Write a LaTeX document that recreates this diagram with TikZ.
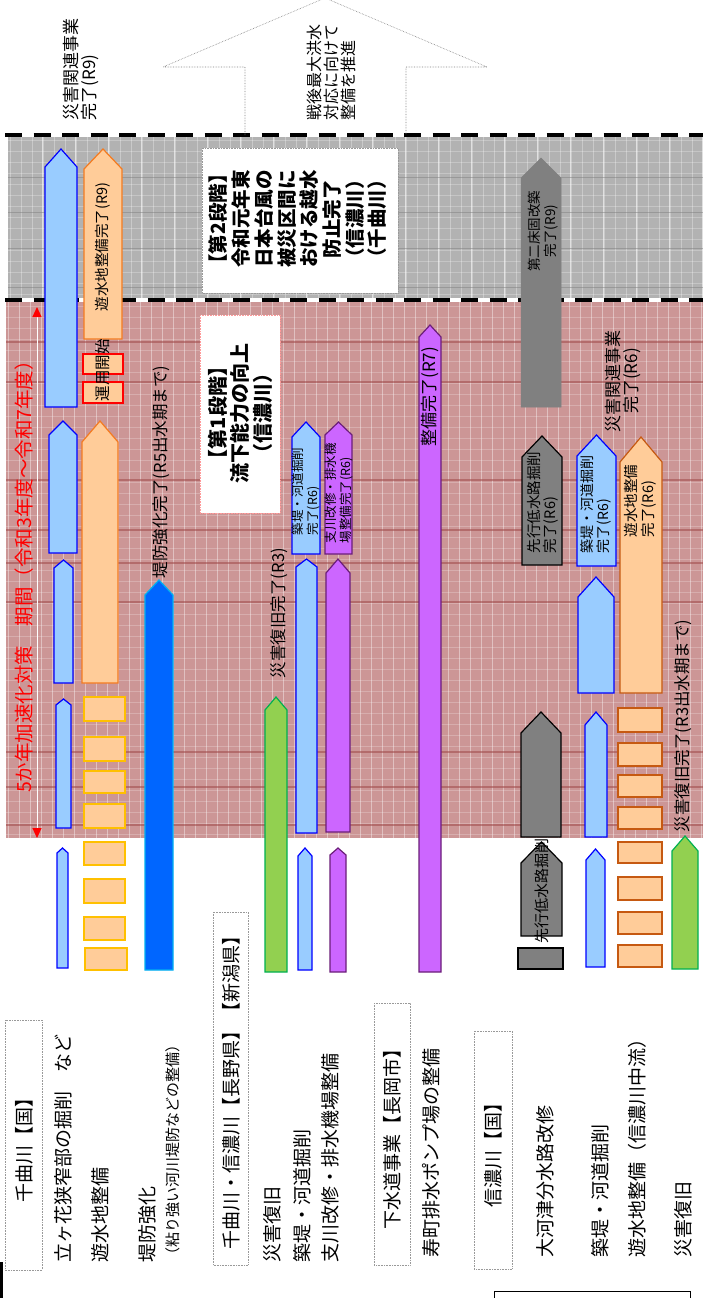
\documentclass[tikz,border=0pt]{standalone}
\usepackage{fontspec}
\setmainfont{Noto Sans CJK JP}
\usetikzlibrary{arrows.meta}
\definecolor{lbfill}{HTML}{99CCFF}
\definecolor{lbdraw}{HTML}{0000FF}
\definecolor{orfill}{HTML}{FFCC99}
\definecolor{ordraw}{HTML}{F47B20}
\definecolor{ordrawb}{HTML}{C65911}
\definecolor{yeldraw}{HTML}{FFC000}
\definecolor{bbfill}{HTML}{0066FF}
\definecolor{bbdraw}{HTML}{00B0F0}
\definecolor{grfill}{HTML}{92D050}
\definecolor{grdraw}{HTML}{00B050}
\definecolor{pufill}{HTML}{CC66FF}
\definecolor{pudraw}{HTML}{6B1E78}
\definecolor{gyfill}{HTML}{808080}
\definecolor{pinkbg}{HTML}{CC9696}
\definecolor{graybg}{HTML}{B2B2B2}
\definecolor{darkband}{HTML}{A04848}
\definecolor{boxline}{HTML}{999999}
\newcommand\arrbar[6]{\filldraw[#1] (#2,#6) -- (#2,#5) -- ({(#2+#3)/2},#4) -- (#3,#5) -- (#3,#6) -- cycle;}
\newcommand\fsz[2]{\fontsize{#1pt}{#2pt}\selectfont}
\tikzset{
  lbl/.style={rotate=90, inner sep=0pt, outer sep=0pt},
  lb/.style={fill=lbfill, draw=lbdraw, line width=1.2pt},
  orb/.style={fill=orfill, draw=ordraw, line width=1.2pt},
  orc/.style={fill=orfill, draw=ordrawb, line width=1.2pt},
  yelbox/.style={fill=orfill, draw=yeldraw, line width=1.2pt},
  redbox/.style={fill=orfill, draw=red, line width=1.2pt},
  bb/.style={fill=bbfill, draw=bbdraw, line width=1.2pt},
  gr/.style={fill=grfill, draw=grdraw, line width=1.2pt},
  pu/.style={fill=pufill, draw=pudraw, line width=1.2pt},
  gy/.style={fill=gyfill, draw=black, line width=1.2pt},
  gyn/.style={fill=gyfill, draw=gyfill, line width=0.5pt},
  titlebox/.style={draw=boxline, densely dotted, line width=0.6pt},
  stagebox/.style={fill=white, densely dotted, line width=0.6pt},
  blackdash/.style={line width=4pt, dash pattern=on 17pt off 11.5pt},
}
\begin{document}
\begin{tikzpicture}[x=1pt,y=-1pt]
\useasboundingbox (0,0) rectangle (703,1298);
\clip (0,0) rectangle (703,1298);
\fill[white] (0,0) rectangle (703,1298);

% ---------- backgrounds ----------
\fill[graybg] (8,137) rectangle (703,298);
\foreach \x in {10,21,...,703} \draw[white,opacity=.3,line width=.6pt] (\x,137)--(\x,298);
\foreach \y in {140,151,...,298} \draw[white,opacity=.25,line width=.6pt] (8,\y)--(703,\y);
\foreach \x in {42,75,...,703} \draw[white,opacity=.6,line width=.8pt] (\x,137)--(\x,298);
\foreach \y in {177,212,248,287} \draw[gray,opacity=.5,line width=1pt] (8,\y)--(703,\y);

\fill[pinkbg] (6,302) rectangle (703,838);
\foreach \x in {8,19,...,703} \draw[white,opacity=.4,line width=.7pt] (\x,302)--(\x,838);
\foreach \y in {306,317,...,838} \draw[white,opacity=.22,line width=.6pt] (6,\y)--(703,\y);
\foreach \y in {342,382,480,530,563,602,752,787,825} \draw[darkband,opacity=.55,line width=1.6pt] (6,\y)--(703,\y);

\draw[blackdash] (5,135) -- (703,135);
\draw[blackdash] (5,300) -- (703,300);

% ---------- top outline arrow ----------
\draw[gray, densely dotted, line width=.6pt] (245,135) -- (245,67) -- (163,67) -- (325,-2) -- (487,67) -- (406,67) -- (406,135);
\node[lbl, anchor=west, align=left, font=\fsz{16}{17}] (sengo) at (331,120) {戦後最大洪水\\対応に向けて\\整備を推進};
\node[lbl, anchor=west, align=left, font=\fsz{17}{17.5}] (kanrenR9) at (81,120) {災害関連事業\\完了(R9)};

% ---------- stage boxes ----------
\draw[stagebox, draw=boxline] (202,148) rectangle (398,293);
\node[lbl, align=center, font=\bfseries\fsz{19.5}{22.7}] (stage2) at (298,219) {【第2段階】\\令和元年東\\日本台風の\\被災区間に\\おける越水\\防止完了\\（信濃川）\\（千曲川）};
\draw[stagebox, draw=red!40] (200,315) rectangle (280,513);
\node[lbl, align=center, font=\bfseries\fsz{20}{22.5}] (stage1) at (240,413) {【第1段階】\\流下能力の向上\\（信濃川）};

% ---------- red period arrow ----------
\draw[white, line width=1pt, {Triangle[length=10pt,width=9pt,color=red]}-{Triangle[length=10pt,width=9pt,color=red]}] (37,307) -- (37,838);
\node[lbl, text=red, font=\fsz{19.5}{20}] (period) at (24,572) {5か年加速化対策　期間（令和3年度～令和7年度）};

% ---------- column 1 : light blue ----------
\arrbar{lb}{45}{77}{149}{167}{407}
\arrbar{lb}{49}{77}{421}{435}{553}
\arrbar{lb}{54}{73}{560}{568}{683}
\arrbar{lb}{56}{71}{699}{705}{828}
\arrbar{lb}{57}{68}{848}{853}{968}

% ---------- column 2 : orange ----------
\arrbar{orb}{84}{122}{149}{169}{339}
\node[lbl, font=\fsz{14.5}{16}] (yusuiR9) at (103,247) {遊水地整備完了(R9)};
\draw[redbox] (83,354) rectangle (123,374);
\draw[redbox] (83,382) rectangle (123,403);
\node[lbl, font=\fsz{15.5}{16}] (unyo) at (103,370) {運用開始};
\arrbar{orb}{82}{118}{421}{442}{683}
\foreach \a/\b in {697/721,737/761,771/793,804/828,842/865,879/903,917/940}
  \draw[yelbox] (84,\a) rectangle (125,\b);
\draw[yelbox] (85,948) rectangle (127,970);

% ---------- column 3 : strong blue ----------
\arrbar{bb}{145}{173}{580}{595}{970}
\node[lbl, anchor=west, font=\fsz{16.5}{17}] (teibo) at (161,578) {堤防強化完了(R5出水期まで)};

% ---------- column 4 : green ----------
\arrbar{gr}{265}{287}{697}{710}{972}
\node[lbl, anchor=west, font=\fsz{16.5}{17}] (saigaiR3) at (279,678) {災害復旧完了(R3)};

% ---------- column 5 : light blue ----------
\arrbar{lb}{292}{320}{422}{437}{554}
\node[lbl, anchor=west, align=left, font=\fsz{12.5}{14.5}] (chikuteiA) at (306,535) {築堤・河道掘削\\完了(R6)};
\arrbar{lb}{296}{317}{559}{567}{833}
\arrbar{lb}{298}{312}{848}{856}{970}

% ---------- column 6 : purple ----------
\arrbar{pu}{325}{352}{422}{435}{554}
\node[lbl, anchor=west, align=left, font=\fsz{12.5}{14.5}] (shisen) at (339,543) {支川改修・排水機\\場整備完了(R6)};
\arrbar{pu}{326}{350}{559}{573}{832}
\arrbar{pu}{330}{346}{848}{855}{972}

% ---------- column 7 : purple long ----------
\arrbar{pu}{419}{441}{325}{337}{972}
\node[lbl, anchor=east, font=\fsz{17}{17}] (seibiR7) at (430,347) {整備完了(R7)};

% ---------- column 8 : gray ----------
\arrbar{gyn}{521}{561}{158}{178}{407}
\node[lbl, align=center, font=\fsz{13.5}{16}] (tokoR9) at (543,231) {第二床固改築\\完了(R9)};
\arrbar{gy}{522}{562}{436}{457}{565}
\node[lbl, anchor=west, align=left, font=\fsz{14.5}{16.5}] (senkoR6) at (543,553) {先行低水路掘削\\完了(R6)};
\arrbar{gy}{521}{561}{712}{733}{837}
\arrbar{gy}{521}{562}{842}{863}{936}
\draw[gy] (518,948) rectangle (563,969);
\node[lbl, anchor=west, font=\fsz{15}{16}] (senko) at (542,943) {先行低水路掘削};

% ---------- column 9 : light blue ----------
\arrbar{lb}{577}{616}{435}{456}{566}
\node[lbl, anchor=west, align=left, font=\fsz{14}{16}] (chikuteiB) at (596,553) {築堤・河道掘削\\完了(R6)};
\arrbar{lb}{578}{614}{577}{597}{693}
\arrbar{lb}{585}{607}{712}{725}{837}
\arrbar{lb}{586}{605}{849}{860}{967}

% ---------- column 10 : orange ----------
\arrbar{orc}{620}{662}{437}{462}{693}
\node[lbl, anchor=west, align=left, font=\fsz{14.5}{17}] (yusuiR6) at (640,537) {遊水地整備\\完了(R6)};
\foreach \a/\b in {708/732,743/766,775/797,807/829,842/863,877/900,912/934,945/967}
  \draw[orc] (618,\a) rectangle (662,\b);
\node[lbl, align=center, font=\fsz{17}{17.5}] (kanrenR6) at (623,381) {災害関連事業\\完了(R6)};

% ---------- column 11 : green ----------
\arrbar{gr}{672}{698}{836}{851}{969}
\node[lbl, anchor=west, font=\fsz{16.5}{17}] (saigaiR3b) at (683,832) {災害復旧完了(R3出水期まで)};

% ---------- row labels ----------
\draw[titlebox] (5,1020) rectangle (42,1270);
\node[lbl, font=\fsz{19}{20}] (t1) at (24,1145) {千曲川【国】};
\node[lbl, anchor=west, font=\fsz{19}{20}] (r1) at (63,1262) {立ヶ花狭窄部の掘削　など};
\node[lbl, anchor=west, font=\fsz{19}{20}] (r2) at (100,1262) {遊水地整備};
\node[lbl, anchor=west, font=\fsz{19}{20}] (r3) at (147,1262) {堤防強化};
\node[lbl, anchor=west, font=\fsz{15}{15}] (r3b) at (173,1262) {（粘り強い河川堤防などの整備）};

\draw[titlebox] (213,912) rectangle (248,1265);
\node[lbl, font=\fsz{19}{20}] (t2) at (231,1088) {千曲川・信濃川【長野県】【新潟県】};
\node[lbl, anchor=west, font=\fsz{19}{20}] (r4) at (272,1262) {災害復旧};
\node[lbl, anchor=west, font=\fsz{19}{20}] (r5) at (302,1262) {築堤・河道掘削};
\node[lbl, anchor=west, font=\fsz{19}{20}] (r6) at (330,1262) {支川改修・排水機場整備};

\draw[titlebox] (374,1003) rectangle (410,1265);
\node[lbl, font=\fsz{19}{20}] (t3) at (392,1134) {下水道事業【長岡市】};
\node[lbl, anchor=west, font=\fsz{19}{20}] (r7) at (431,1257) {寿町排水ポンプ場の整備};

\draw[titlebox] (474,1031) rectangle (512,1269);
\node[lbl, font=\fsz{19}{20}] (t4) at (493,1150) {信濃川【国】};
\node[lbl, anchor=west, font=\fsz{19}{20}] (r8) at (545,1257) {大河津分水路改修};
\node[lbl, anchor=west, font=\fsz{19}{20}] (r9) at (600,1257) {築堤・河道掘削};
\node[lbl, anchor=west, font=\fsz{19}{20}] (r10) at (637,1257) {遊水地整備（信濃川中流）};
\node[lbl, anchor=west, font=\fsz{19}{20}] (r11) at (683,1257) {災害復旧};

% ---------- edge fragments ----------
\draw[black, line width=1pt] (494,1300) -- (494,1291) -- (690,1291) -- (690,1300);
\draw[black, line width=3pt] (1.5,1262) -- (1.5,1298);
\end{tikzpicture}
\end{document}
